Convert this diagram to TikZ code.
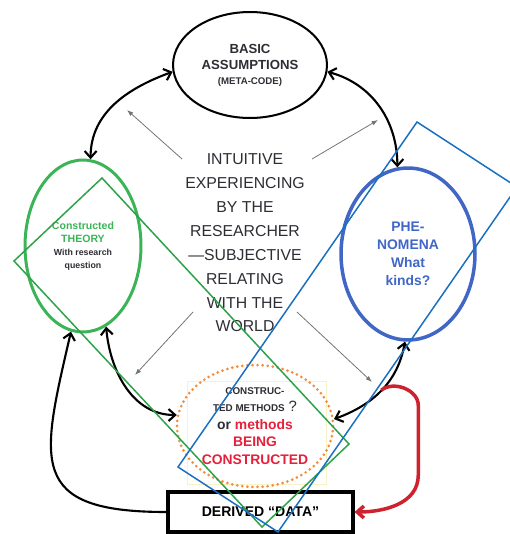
\documentclass[tikz,border=0pt]{standalone}
\usepackage{fontspec}
\setmainfont{Liberation Sans}
\usetikzlibrary{arrows.meta,shapes.geometric}
\definecolor{thgreen}{RGB}{58,180,86}
\definecolor{frgreen}{RGB}{46,162,74}
\definecolor{phblue}{RGB}{64,102,198}
\definecolor{frblue}{RGB}{26,112,192}
\definecolor{dotorange}{RGB}{240,142,62}
\definecolor{mred}{RGB}{230,32,58}
\definecolor{arrred}{RGB}{206,34,46}
\definecolor{ink}{RGB}{45,45,52}
\definecolor{paleyel}{RGB}{248,242,196}
\newcommand{\fs}[2]{\fontsize{#1}{#2}\selectfont}

\begin{document}
\begin{tikzpicture}[x=0.02cm, y=0.02cm, font=\bfseries, >={Straight Barb[length=3.8pt,width=6.8pt]},
  oval/.style={ellipse, draw=#1, inner sep=0pt, align=center},
  pair/.style={<->, line width=1.2pt, black},
  feed/.style={->, line width=1.2pt, black},
  hint/.style={-{Latex[length=3.6pt,width=2.6pt]}, line width=0.45pt, black!55},
  frame/.style={line width=0.85pt, draw=#1}]
\useasboundingbox (0,0) rectangle (510,-534);
% the five stations of the cycle
\node[oval=black, line width=1.15pt, minimum width=3.08cm, minimum height=2.12cm, text=ink,
  font=\bfseries\fs{7.5}{9.6}] (basic) at (250,-65)
  {BASIC\\ASSUMPTIONS\\[-1.5pt]{\fs{5.5}{7}(META-CODE)}};
\node[oval=thgreen, line width=1.7pt, minimum width=2.32cm, minimum height=3.44cm, text=ink,
  font=\bfseries\fs{6}{7.4}] (theory) at (83,-246)
  {\textcolor{thgreen}{Constructed}\\\textcolor{thgreen}{THEORY}\\{\fs{5}{7}With research}\\{\fs{5}{7}question}};
\node[oval=phblue, line width=2pt, minimum width=2.68cm, minimum height=3.44cm, text=phblue,
  font=\bfseries\fs{7.9}{10.2}] (phen) at (408,-254)
  {PHE-\\NOMENA\\What\\kinds?};
\node[draw=paleyel, line width=0.6pt, minimum width=2.78cm, minimum height=2.06cm] (pad) at (257,-433) {};
\node[oval=dotorange, line width=1.7pt, dash pattern=on 0pt off 2.9pt, line cap=round,
  minimum width=3.12cm, minimum height=2.44cm, text=ink, font=\bfseries\fs{7.9}{9.9}] (methods) at (255,-426)
  {{\fs{5.6}{9.9}CONSTRUC-}\\{\fs{5.6}{9.9}TED METHODS} {\mdseries\fs{8.5}{9.9}?}\\or \textcolor{mred}{methods}\\
   \textcolor{mred}{BEING}\\\textcolor{mred}{CONSTRUCTED}};
\node[draw=black, line width=1.8pt, minimum width=3.7cm, minimum height=0.8cm,
  font=\bfseries\fs{8}{10}] (data) at (260.5,-512) {DERIVED “DATA”};
\node[align=center, text=ink, font=\fs{9}{13.6}] (intuit) at (245,-243)
  {INTUITIVE\\EXPERIENCING\\BY THE\\RESEARCHER\\—SUBJECTIVE\\RELATING\\WITH THE\\WORLD};
% thin pointers out of the centre
\coordinate (h1a) at (182,-159); \coordinate (h1b) at (127,-110);
\coordinate (h2a) at (312,-159); \coordinate (h2b) at (378,-120);
\coordinate (h3a) at (193,-312); \coordinate (h3b) at (135,-375);
\coordinate (h4a) at (297,-312); \coordinate (h4b) at (372,-382);
\foreach \n in {1,...,4}
  \draw[hint] (h\n a) -- (h\n b);
% the cycle
\draw[pair] (basic.185) to[out=200,in=90] (theory.85);
\draw[pair] (basic.-5) to[out=-15,in=90] (phen.97);
\draw[pair] (theory.-74) to[out=-85,in=180] (methods.172);
\draw[pair] (phen.-92) to[out=-100,in=20] coordinate[pos=0.5] (fork) (methods.5);
\draw[feed] (data.west) .. controls +(-140,0) and +(-30,-130) .. (theory.-98);
\draw[->, line width=2pt, arrred] (fork) to[out=40,in=90] ++(37,-15) -- ++(0,-70) to[out=-90,in=0] (data.east);
% the two tilted frames
\coordinate (gt) at (102,-178); \coordinate (gr) at (349,-444);
\coordinate (gb) at (262,-527); \coordinate (gl) at (14,-261);
\draw[frame=frgreen] (gt) -- (gr) -- (gb) -- (gl) -- cycle;
\coordinate (bt) at (417,-122); \coordinate (br) at (517,-187);
\coordinate (bb) at (278,-532); \coordinate (bl) at (178,-467);
\draw[frame=frblue] (bt) -- (br) -- (bb) -- (bl) -- cycle;
\end{tikzpicture}
\end{document}
